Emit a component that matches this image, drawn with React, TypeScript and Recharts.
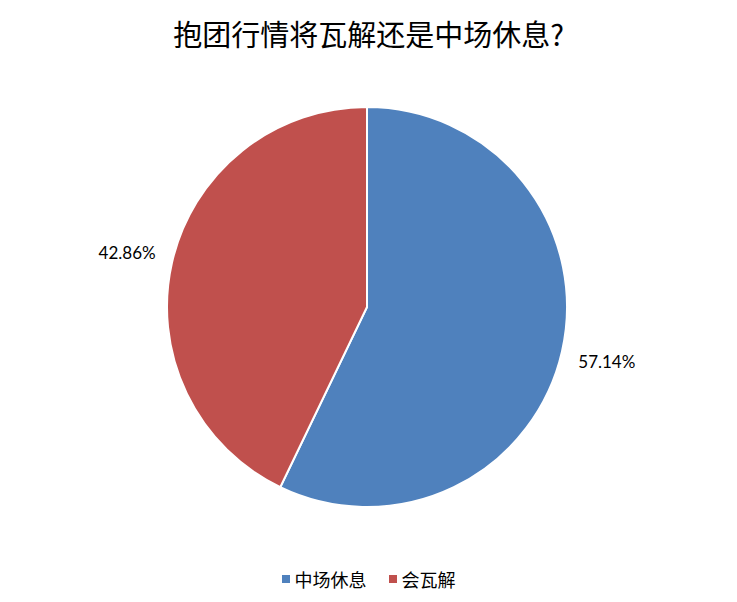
import React from 'react';
import { PieChart, Pie, Cell, Legend } from 'recharts';

// ============================================================================
// Data
// ============================================================================

const TITLE = '抱团行情将瓦解还是中场休息?';
const categories = ['中场休息', '会瓦解'];
const shares = [57.14, 42.86];
const colors = ['#4F81BD', '#C0504D'];

const pieData = categories.map((name, idx) => ({ name, value: shares[idx] }));

const RADIAN = Math.PI / 180;

// Excel-style "outside end" percentage labels
const renderLabel = (props: any) => {
  const { cx, cy, midAngle, outerRadius, value } = props;
  const r = outerRadius + 46;
  const x = cx + r * Math.cos(-midAngle * RADIAN);
  const y = cy + r * Math.sin(-midAngle * RADIAN);
  return (
    <text
      x={x}
      y={y}
      fill="#000"
      textAnchor="middle"
      dominantBaseline="central"
      style={{ fontFamily: 'Lato, "Noto Sans", sans-serif', fontSize: 17 }}
    >
      {`${value.toFixed(2)}%`}
    </text>
  );
};

const renderLegend = () => (
  <div
    style={{
      display: 'flex',
      justifyContent: 'center',
      alignItems: 'center',
      fontFamily: '"Noto Sans CJK SC", sans-serif',
      fontSize: 18,
      color: '#000'
    }}
  >
    {categories.map((name, idx) => (
      <div key={name} style={{ display: 'flex', alignItems: 'center', marginRight: idx === 0 ? 22 : 0 }}>
        <span
          style={{
            display: 'inline-block',
            width: 8,
            height: 8,
            backgroundColor: colors[idx],
            marginRight: 5
          }}
        />
        <span>{name}</span>
      </div>
    ))}
  </div>
);

export default function App() {
  return (
    <div
      style={{
        position: 'absolute',
        left: 0,
        top: 0,
        width: 737,
        height: 602,
        background: '#fff'
      }}
    >
      <div
        style={{
          position: 'absolute',
          top: 12,
          left: 0,
          width: 737,
          textAlign: 'center',
          fontFamily: '"Noto Sans CJK SC", sans-serif',
          fontSize: 29,
          lineHeight: '42px',
          color: '#000'
        }}
      >
        {TITLE}
      </div>
      <PieChart width={737} height={602} margin={{ top: 0, right: 0, bottom: 0, left: 0 }}>
        <Pie
          data={pieData}
          dataKey="value"
          nameKey="name"
          cx={367}
          cy={307}
          outerRadius={200}
          startAngle={90}
          endAngle={-270}
          stroke="#fff"
          strokeWidth={2}
          label={renderLabel}
          labelLine={false}
          isAnimationActive={false}
        >
          {pieData.map((d, idx) => (
            <Cell key={d.name} fill={colors[idx]} />
          ))}
        </Pie>
        <Legend
          verticalAlign="bottom"
          content={renderLegend}
          wrapperStyle={{ bottom: 10, left: 0, width: 737 }}
        />
      </PieChart>
    </div>
  );
}
